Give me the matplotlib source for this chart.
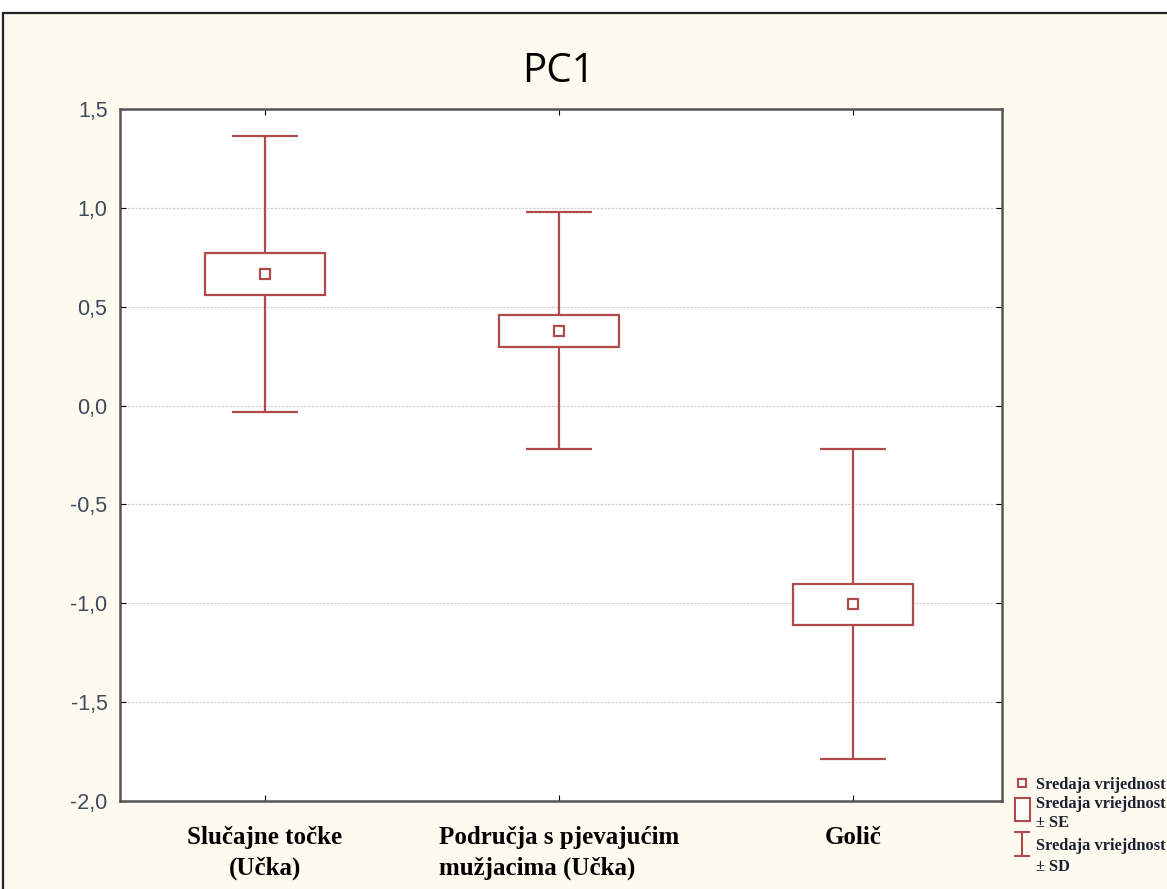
import numpy as np
import matplotlib
matplotlib.use("Agg")
from matplotlib import pyplot as plt
from matplotlib.patches import Rectangle
from matplotlib.lines import Line2D

# data
categories = ["Slučajne točke\n(Učka)", "Područja s pjevajućim\nmužjacima (Učka)", "Golič"]
label_align = ["center", "left", "center"]
means = [0.665, 0.378, -1.005]
se = [0.105, 0.080, 0.104]
sd = [0.700, 0.600, 0.785]
yticks = [-2.0, -1.5, -1.0, -0.5, 0.0, 0.5, 1.0, 1.5]
ytick_labels = ["-2,0", "-1,5", "-1,0", "-0,5", "0,0", "0,5", "1,0", "1,5"]

red = "#b04a4a"
cream = "#fffaf0"

fig = plt.figure(figsize=(11.67, 8.89), dpi=100)
fig.patch.set_facecolor("white")

# cream panel with black border (cropped screenshot look)
W, H = 1167, 889
panel = Rectangle((3 / W, -0.01), 1.02, (H - 13) / H + 0.01, transform=fig.transFigure,
                  facecolor=cream, edgecolor="#222222", linewidth=1.6, zorder=-10)
fig.patches.append(panel)

ax = fig.add_axes([120 / W, (H - 801) / H, 882 / W, 692 / H])
ax.set_facecolor("white")

x = np.arange(len(categories))
ax.errorbar(x, means, yerr=sd, fmt="none", ecolor=red, elinewidth=1.6,
            capsize=23.5, capthick=1.6, zorder=2)
ax.bar(x, [2 * s for s in se], width=0.41, bottom=[m - s for m, s in zip(means, se)],
       facecolor="white", edgecolor=red, linewidth=1.6, zorder=3)
ax.plot(x, means, linestyle="none", marker="s", markersize=6.5, markerfacecolor="white",
        markeredgecolor=red, markeredgewidth=1.6, zorder=4)

ax.set_xlim(-0.493, 2.507)
ax.set_ylim(-2.0, 1.5)
ax.set_yticks(yticks)
ax.set_yticklabels(ytick_labels, fontsize=15.5, color="#3c4a5c", family="Liberation Sans")
ax.set_xticks(x)
ax.set_xticklabels(categories, fontsize=18, fontweight="bold", family="Liberation Serif",
                   linespacing=1.4)
for lab, al in zip(ax.get_xticklabels(), label_align):
    lab.set_multialignment(al)
ax.tick_params(axis="y", direction="in", length=4, pad=9, left=True, right=True)
ax.tick_params(axis="x", direction="in", length=4, pad=18, top=True, bottom=True)
ax.grid(axis="y", color="#d2d2d2", linestyle=(0, (2, 1)), linewidth=0.9, zorder=0)
ax.set_axisbelow(True)
for sp in ax.spines.values():
    sp.set_color("#555555")
    sp.set_linewidth(1.8)

fig.text(558 / W, 1 - 72 / H, "PC1", fontsize=29, family="Open Sans",
         ha="center", va="center")

# legend drawn by hand outside the axes (bottom right)
lg = fig.add_axes([1008 / W, 0, (W - 1008) / W, 120 / H])
lg.set_xlim(1008, W)
lg.set_ylim(H, H - 120)
lg.axis("off")
lfont = dict(fontsize=11.8, fontweight="bold", family="Liberation Serif", color="#1a2030",
             va="center", ha="left", clip_on=False)
lg.plot([1022], [783], marker="s", markersize=6, markerfacecolor="white",
        markeredgecolor=red, markeredgewidth=1.5, linestyle="none")
lg.text(1036, 785, "Sredaja vrijednost", **lfont)
lg.add_patch(Rectangle((1015, 798), 15, 23, facecolor="white", edgecolor=red, linewidth=1.5))
lg.text(1036, 804, "Sredaja vriejdnost", **lfont)
lg.text(1036, 823, "± SE", **lfont)
lg.add_line(Line2D([1022, 1022], [832, 856], color=red, linewidth=1.5))
lg.add_line(Line2D([1015, 1029], [832, 832], color=red, linewidth=1.5))
lg.add_line(Line2D([1015, 1029], [856, 856], color=red, linewidth=1.5))
lg.text(1036, 846, "Sredaja vriejdnost", **lfont)
lg.text(1036, 867, "± SD", **lfont)

fig.savefig("out.png", dpi=100, facecolor=fig.get_facecolor())
